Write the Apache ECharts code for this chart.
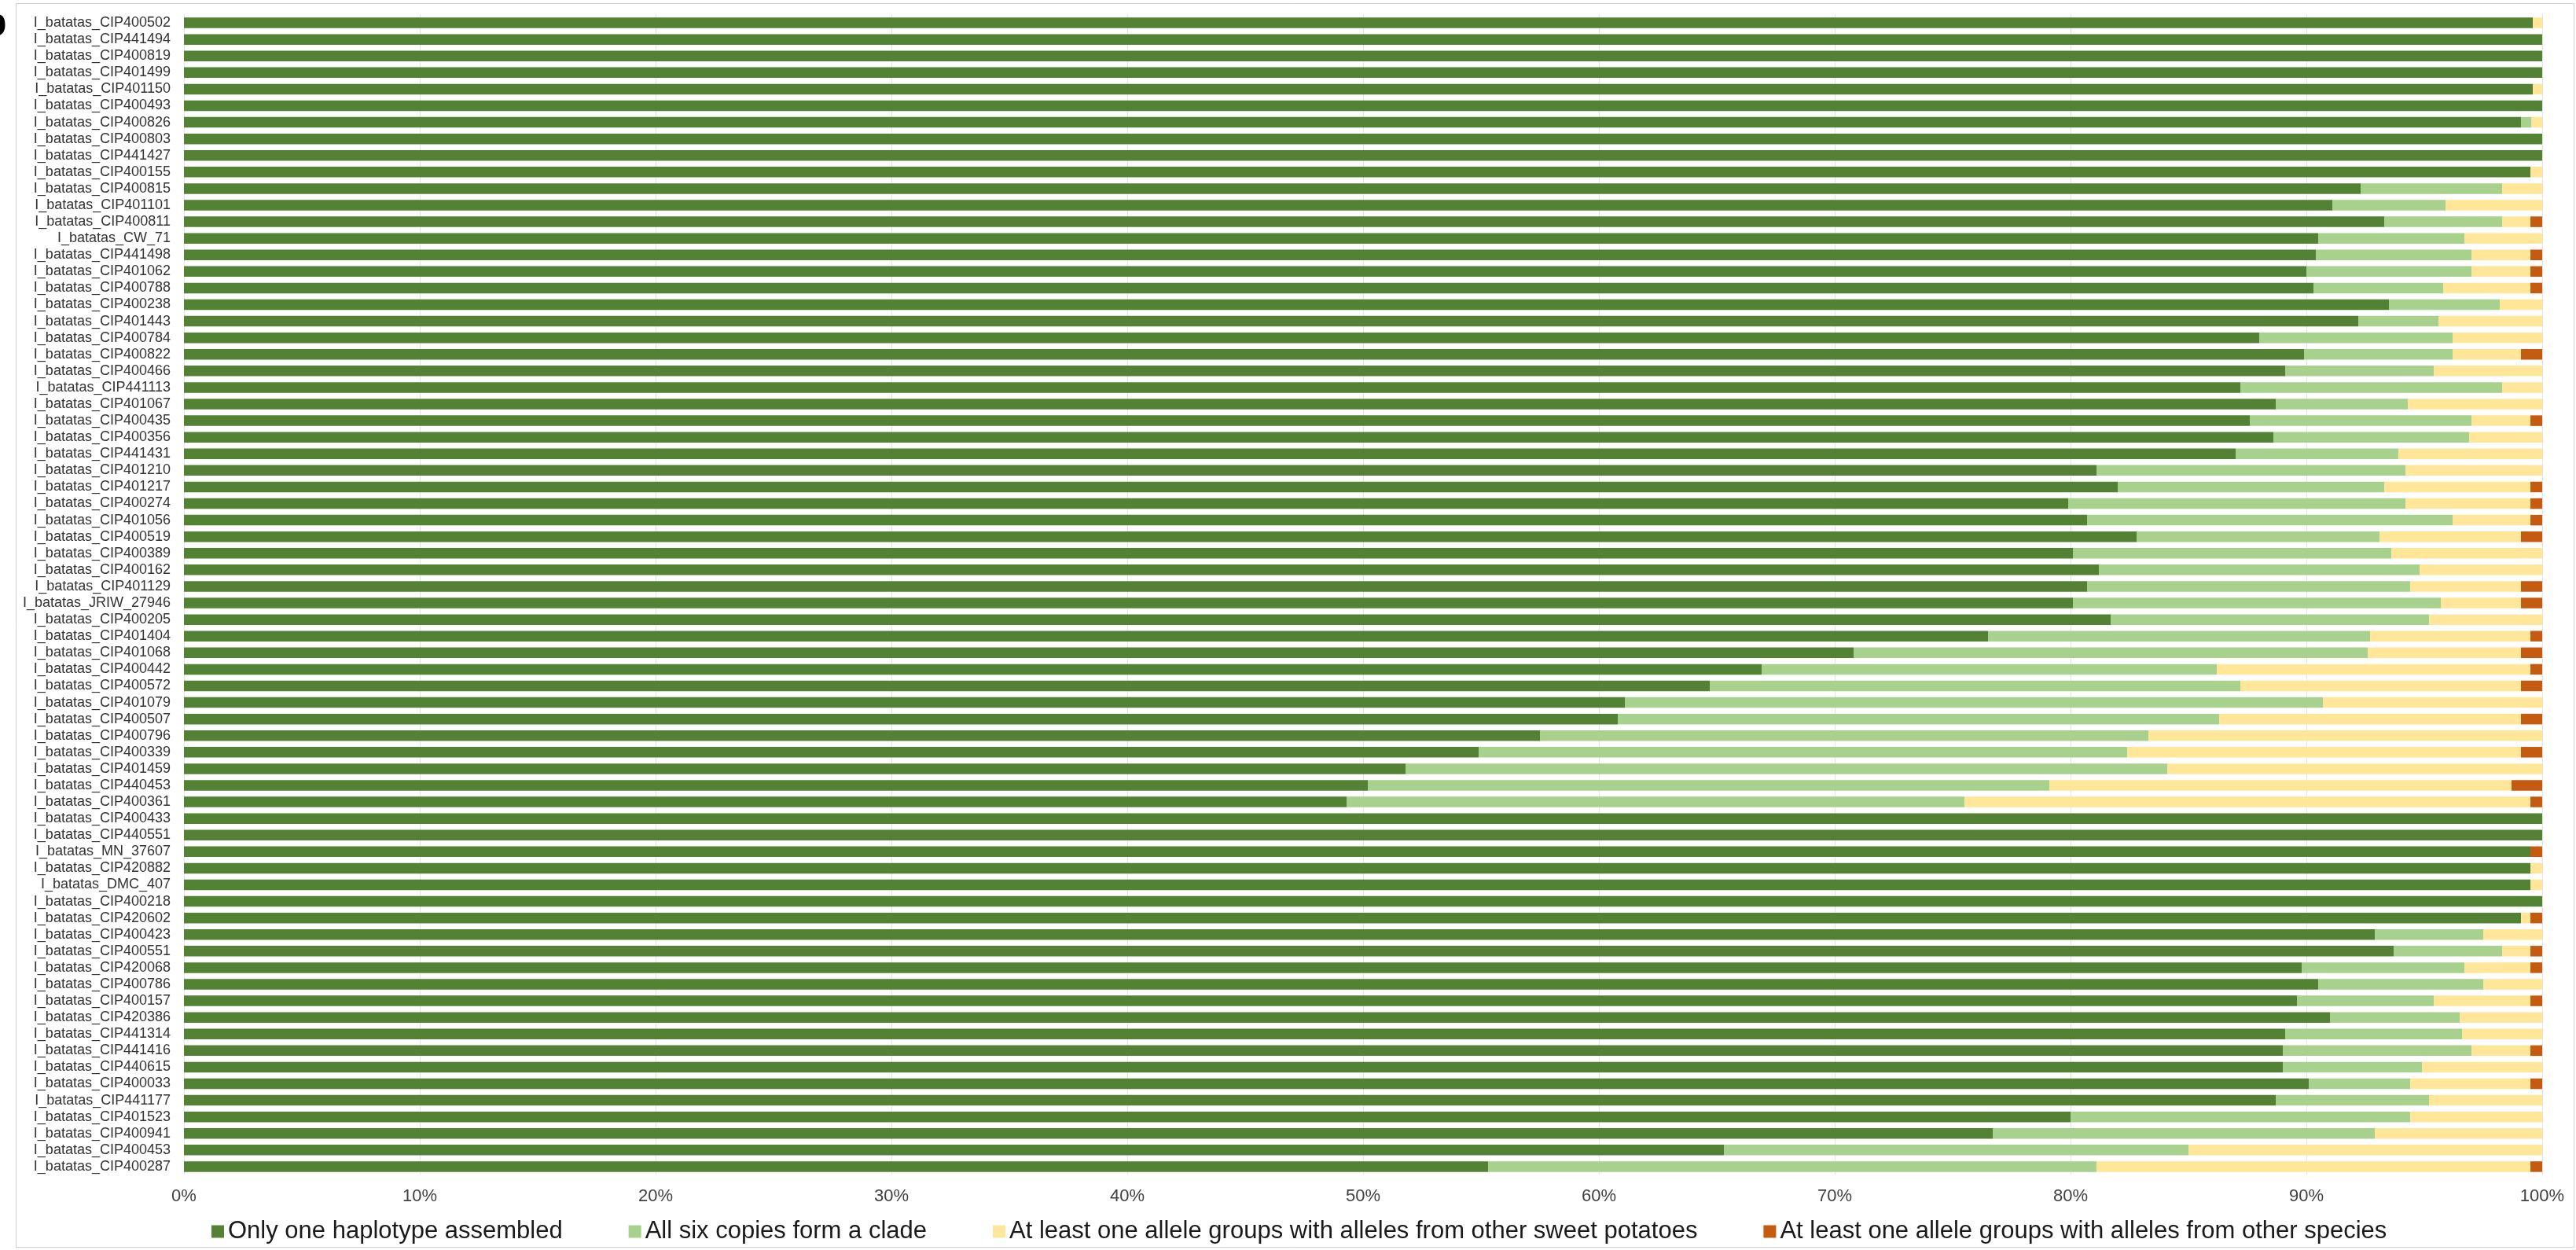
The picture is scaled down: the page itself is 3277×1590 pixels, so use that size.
<!DOCTYPE html>
<html>
<head>
<meta charset="utf-8">
<title>Haplotype composition per accession</title>
<script src="https://cdn.jsdelivr.net/npm/echarts@6/dist/echarts.min.js"></script>
<style>
  html, body { margin: 0; padding: 0; background: #ffffff; }
  #chart { width: 3277px; height: 1590px; }
</style>
</head>
<body>
<div id="chart"></div>
<script>
// Accessions, top to bottom
const accessions = [
  'I_batatas_CIP400502', 'I_batatas_CIP441494', 'I_batatas_CIP400819', 'I_batatas_CIP401499',
  'I_batatas_CIP401150', 'I_batatas_CIP400493', 'I_batatas_CIP400826', 'I_batatas_CIP400803',
  'I_batatas_CIP441427', 'I_batatas_CIP400155', 'I_batatas_CIP400815', 'I_batatas_CIP401101',
  'I_batatas_CIP400811', 'I_batatas_CW_71', 'I_batatas_CIP441498', 'I_batatas_CIP401062',
  'I_batatas_CIP400788', 'I_batatas_CIP400238', 'I_batatas_CIP401443', 'I_batatas_CIP400784',
  'I_batatas_CIP400822', 'I_batatas_CIP400466', 'I_batatas_CIP441113', 'I_batatas_CIP401067',
  'I_batatas_CIP400435', 'I_batatas_CIP400356', 'I_batatas_CIP441431', 'I_batatas_CIP401210',
  'I_batatas_CIP401217', 'I_batatas_CIP400274', 'I_batatas_CIP401056', 'I_batatas_CIP400519',
  'I_batatas_CIP400389', 'I_batatas_CIP400162', 'I_batatas_CIP401129', 'I_batatas_JRIW_27946',
  'I_batatas_CIP400205', 'I_batatas_CIP401404', 'I_batatas_CIP401068', 'I_batatas_CIP400442',
  'I_batatas_CIP400572', 'I_batatas_CIP401079', 'I_batatas_CIP400507', 'I_batatas_CIP400796',
  'I_batatas_CIP400339', 'I_batatas_CIP401459', 'I_batatas_CIP440453', 'I_batatas_CIP400361',
  'I_batatas_CIP400433', 'I_batatas_CIP440551', 'I_batatas_MN_37607', 'I_batatas_CIP420882',
  'I_batatas_DMC_407', 'I_batatas_CIP400218', 'I_batatas_CIP420602', 'I_batatas_CIP400423',
  'I_batatas_CIP400551', 'I_batatas_CIP420068', 'I_batatas_CIP400786', 'I_batatas_CIP400157',
  'I_batatas_CIP420386', 'I_batatas_CIP441314', 'I_batatas_CIP441416', 'I_batatas_CIP440615',
  'I_batatas_CIP400033', 'I_batatas_CIP441177', 'I_batatas_CIP401523', 'I_batatas_CIP400941',
  'I_batatas_CIP400453', 'I_batatas_CIP400287'
];

// Percentage of allele groups in each class (same order as accessions)
const onlyOneHaplotype = [
  99.6, 100, 100, 100, 99.6, 100, 99.1, 100, 100, 99.5,
  92.3, 91.1, 93.3, 90.5, 90.4, 90.0, 90.3, 93.5, 92.2, 88.0,
  89.9, 89.1, 87.2, 88.7, 87.6, 88.6, 87.0, 81.1, 82.0, 79.9,
  80.7, 82.8, 80.1, 81.2, 80.7, 80.1, 81.7, 76.5, 70.8, 66.9,
  64.7, 61.1, 60.8, 57.5, 54.9, 51.8, 50.2, 49.3, 100, 100,
  99.5, 99.5, 99.5, 100, 99.1, 92.9, 93.7, 89.8, 90.5, 89.6,
  91.0, 89.1, 89.0, 89.0, 90.1, 88.7, 80.0, 76.7, 65.3, 55.3
];
const sixCopiesClade = [
  0, 0, 0, 0, 0, 0, 0.45, 0, 0, 0,
  6.0, 4.8, 5.0, 6.2, 6.6, 7.0, 5.5, 4.7, 3.4, 8.2,
  6.3, 6.3, 11.1, 5.6, 9.4, 8.3, 6.9, 13.1, 11.3, 14.3,
  15.5, 10.3, 13.5, 13.6, 13.7, 15.6, 13.5, 16.2, 21.8, 19.3,
  22.5, 29.6, 25.5, 25.8, 27.5, 32.3, 28.9, 26.2, 0, 0,
  0, 0, 0, 0, 0, 4.6, 4.6, 6.9, 7.0, 5.8,
  5.5, 7.5, 8.0, 5.9, 4.3, 6.5, 14.4, 16.2, 19.7, 25.8
];
const otherSweetPotatoes = [
  0.4, 0, 0, 0, 0.4, 0, 0.45, 0, 0, 0.5,
  1.7, 4.1, 1.2, 3.3, 2.5, 2.5, 3.7, 1.8, 4.4, 3.8,
  2.9, 4.6, 1.7, 5.7, 2.5, 3.1, 6.1, 5.8, 6.2, 5.3,
  3.3, 6.0, 6.4, 5.2, 4.7, 3.4, 4.8, 6.8, 6.5, 13.3,
  11.9, 9.3, 12.8, 16.7, 16.7, 15.9, 19.6, 24.0, 0, 0,
  0, 0.5, 0.5, 0, 0.4, 2.5, 1.2, 2.8, 2.5, 4.1,
  3.5, 3.4, 2.5, 5.1, 5.1, 4.8, 5.6, 7.1, 15.0, 18.4
];
const otherSpecies = [
  0, 0, 0, 0, 0, 0, 0, 0, 0, 0,
  0, 0, 0.5, 0, 0.5, 0.5, 0.5, 0, 0, 0,
  0.9, 0, 0, 0, 0.5, 0, 0, 0, 0.5, 0.5,
  0.5, 0.9, 0, 0, 0.9, 0.9, 0, 0.5, 0.9, 0.5,
  0.9, 0, 0.9, 0, 0.9, 0, 1.3, 0.5, 0, 0,
  0.5, 0, 0, 0, 0.5, 0, 0.5, 0.5, 0, 0.5,
  0, 0, 0.5, 0, 0.5, 0, 0, 0, 0, 0.5
];

const classNames = [
  'Only one haplotype assembled',
  'All six copies form a clade',
  'At least one allele groups with alleles from other sweet potatoes',
  'At least one allele groups with alleles from other species'
];
const classColors = ['#548235', '#A9D18E', '#FFE699', '#C55A11'];
const classValues = [onlyOneHaplotype, sixCopiesClade, otherSweetPotatoes, otherSpecies];

const FONT = '"Liberation Sans", Arial, Helvetica, sans-serif';

const chart = echarts.init(document.getElementById('chart'), null, { renderer: 'canvas' });

chart.setOption({
  backgroundColor: '#ffffff',
  animation: false,
  textStyle: { fontFamily: FONT },
  graphic: [
    {
      type: 'rect',
      shape: { x: 20.5, y: 4.5, width: 3254, height: 1582 },
      style: { fill: 'none', stroke: '#d0d0d0', lineWidth: 1 },
      silent: true
    },
    {
      type: 'text',
      left: -22,
      top: 6,
      style: { text: 'b', font: 'bold 50px ' + FONT, fill: '#000000' },
      silent: true
    }
  ],
  legend: {
    data: classNames,
    left: 264,
    top: 1546,
    icon: 'rect',
    itemWidth: 16,
    itemHeight: 16,
    itemGap: 84,
    textStyle: { fontSize: 31, color: '#1a1a1a', fontFamily: FONT }
  },
  grid: { left: 234, right: 43, top: 18.5, bottom: 95.5, containLabel: false },
  xAxis: {
    type: 'value',
    min: 0,
    max: 100,
    interval: 10,
    axisLine: { show: false },
    axisTick: { show: false },
    axisLabel: {
      formatter: '{value}%',
      fontSize: 22,
      color: '#404040',
      margin: 16,
      fontFamily: FONT
    },
    splitLine: { show: true, lineStyle: { color: '#e4e4e4', width: 1 } }
  },
  yAxis: {
    type: 'category',
    data: accessions,
    inverse: true,
    axisLine: { show: false },
    axisTick: { show: false },
    axisLabel: {
      interval: 0,
      fontSize: 18,
      color: '#333333',
      margin: 17,
      fontFamily: FONT
    }
  },
  series: classNames.map((name, i) => ({
    name: name,
    type: 'bar',
    stack: 'total',
    barWidth: 13.5,
    itemStyle: { color: classColors[i] },
    data: classValues[i]
  }))
});
</script>
</body>
</html>
